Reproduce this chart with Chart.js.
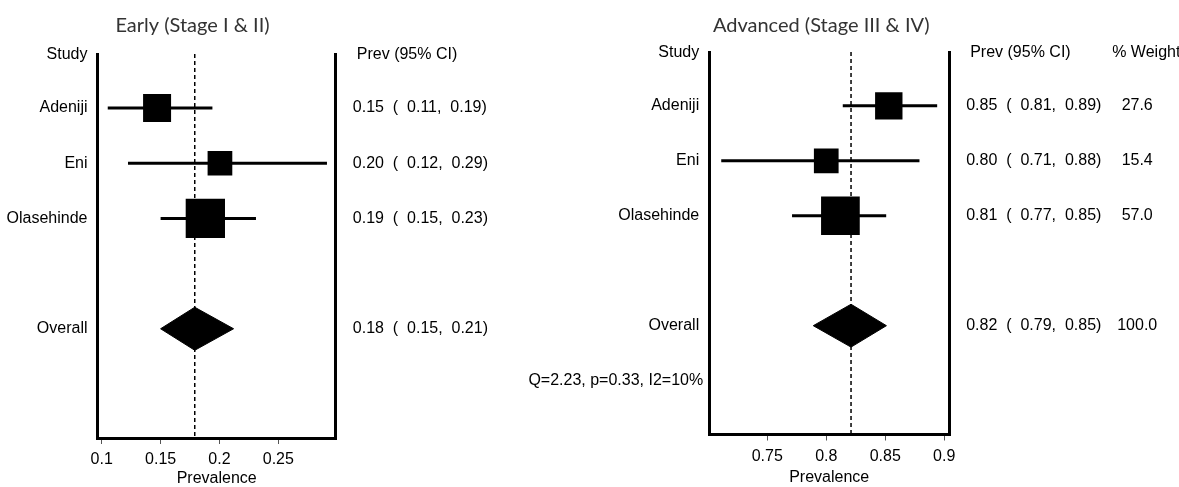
<!DOCTYPE html>
<html>
<head>
<meta charset="utf-8">
<script src="https://cdn.jsdelivr.net/npm/chart.js@4.4.1/dist/chart.umd.min.js"></script>
<style>
  html, body { margin: 0; padding: 0; background: #fff; overflow: hidden; }
  #wrap { position: relative; width: 1179px; height: 487px; overflow: hidden; background: #fff; }
  #wrap canvas { position: absolute; top: 0; }
</style>
</head>
<body>
<div id="wrap">
  <canvas id="early" width="684" height="487" style="left:-150px;width:684px;height:487px"></canvas>
  <canvas id="advanced" width="716" height="487" style="left:463px;width:716px;height:487px"></canvas>
</div>
<script>
// ---- data ----
const studies = ["Adeniji", "Eni", "Olasehinde"];

// Early stage (I & II)
const earlyPrev  = [0.147, 0.2004, 0.188];
const earlyLower = [0.1051, 0.1223, 0.15];
const earlyUpper = [0.194, 0.2913, 0.231];
const earlyPooled = 0.179;
const earlyPooledLower = 0.15;
const earlyPooledUpper = 0.212;
const earlyTicks = [0.1, 0.15, 0.2, 0.25];

// Advanced stage (III & IV)
const advPrev  = [0.853, 0.80, 0.812];
const advLower = [0.814, 0.711, 0.771];
const advUpper = [0.894, 0.879, 0.8508];
const advWeight = [27.6, 15.4, 57.0];
const advPooled = 0.821;
const advPooledLower = 0.789;
const advPooledUpper = 0.851;
const advPooledWeight = 100.0;
const advTicks = [0.75, 0.8, 0.85, 0.9];
const hetQ = 2.23, hetP = 0.33, hetI2 = 10;

// ---- layout / style ----
const BODY_FONT = '"Liberation Sans", Arial, sans-serif';
const TITLE_FONT = 'Lato, "Open Sans", sans-serif';
const Y_MIN = 0.02, Y_MAX = 6.98;      // row space: header row 0, studies 1..3, pooled 5, footnote 6
const DIAMOND_HALF = 0.39;             // diamond half-height in row units

const fmt2 = v => v.toFixed(2);
const ciText = (e, l, h) => `${fmt2(e)}  (  ${fmt2(l)},  ${fmt2(h)})`;

// Table text, headers and panel title around the plot area
const tablePlugin = {
  id: 'forestTable',
  afterDraw(chart, args, o) {
    const { ctx, chartArea: a, scales: { y } } = chart;
    ctx.save();
    ctx.fillStyle = '#333';
    ctx.font = '20px ' + TITLE_FONT;
    ctx.textAlign = 'center';
    ctx.textBaseline = 'alphabetic';
    ctx.fillText(o.title, a.left + o.titleDx, 32);

    ctx.fillStyle = '#000';
    ctx.font = '16px ' + BODY_FONT;
    ctx.textBaseline = 'middle';
    const labX = a.left - 10;
    const headY = a.top + 1;

    ctx.textAlign = 'right';
    ctx.fillText('Study', labX, headY);
    ctx.textAlign = 'left';
    ctx.fillText('Prev (95% CI)', a.right + 21, headY);
    if (o.weights) {
      ctx.fillText('% Weight', a.right + 163, headY);
    }

    o.rows.forEach(r => {
      const py = y.getPixelForValue(r.row);
      ctx.textAlign = 'right';
      ctx.fillText(r.name, labX, py);
      ctx.textAlign = 'left';
      ctx.fillText(r.ci, a.right + 17, py);
      if (r.weight !== undefined) {
        ctx.textAlign = 'center';
        ctx.fillText(r.weight, a.right + 188, py);
      }
    });

    if (o.footnote) {
      ctx.textAlign = 'right';
      ctx.fillText(o.footnote, a.left - 6, y.getPixelForValue(o.footnoteRow));
    }
    ctx.restore();
  }
};

function forestPanel(id, p) {
  const rows = studies.map((_, i) => i + 1);
  const pooledRow = studies.length + 2;
  const datasets = [];

  // study boxes
  datasets.push({
    data: p.prev.map((v, i) => ({ x: v, y: rows[i] })),
    pointStyle: 'rect',
    pointRadius: p.boxSide.map(s => s / Math.SQRT2),
    pointHoverRadius: p.boxSide.map(s => s / Math.SQRT2),
    backgroundColor: '#000', borderColor: '#000', borderWidth: 0,
    order: 0
  });
  // pooled diamond
  datasets.push({
    data: [
      { x: p.pooled[1], y: pooledRow },
      { x: p.pooled[0], y: pooledRow - DIAMOND_HALF },
      { x: p.pooled[2], y: pooledRow },
      { x: p.pooled[0], y: pooledRow + DIAMOND_HALF },
      { x: p.pooled[1], y: pooledRow }
    ],
    showLine: true, fill: 'shape', tension: 0,
    backgroundColor: '#000', borderColor: '#000', borderWidth: 1,
    pointRadius: 0, order: 0
  });
  // confidence intervals
  rows.forEach((r, i) => datasets.push({
    data: [{ x: p.lower[i], y: r }, { x: p.upper[i], y: r }],
    showLine: true, borderColor: '#000', borderWidth: 3, borderCapStyle: 'butt',
    pointRadius: 0, order: 1
  }));
  // pooled estimate reference line
  datasets.push({
    data: [{ x: p.pooled[0], y: Y_MIN }, { x: p.pooled[0], y: Y_MAX }],
    showLine: true, borderColor: '#000', borderWidth: 1.5, borderDash: [4, 3],
    pointRadius: 0, order: 2
  });

  const tableRows = studies.map((s, i) => ({
    name: s, row: rows[i],
    ci: ciText(p.prev[i], p.lower[i], p.upper[i]),
    weight: p.weights ? p.weights[i].toFixed(1) : undefined
  }));
  tableRows.push({
    name: 'Overall', row: pooledRow,
    ci: ciText(p.pooled[0], p.pooled[1], p.pooled[2]),
    weight: p.weights ? p.pooledWeight.toFixed(1) : undefined
  });

  const yAxis = (pos) => ({
    type: 'linear', position: pos, reverse: true, min: Y_MIN, max: Y_MAX,
    ticks: { display: false },
    grid: { display: false, drawTicks: false, lineWidth: 3 },
    border: { display: true, width: 3, color: '#000' },
    afterFit: s => { s.width = 0; }
  });

  return new Chart(document.getElementById(id), {
    type: 'scatter',
    data: { datasets },
    options: {
      responsive: false, animation: false, events: [],
      layout: { padding: p.padding },
      plugins: {
        legend: { display: false }, tooltip: { enabled: false }, title: { display: false },
        forestTable: {
          title: p.title, titleDx: p.titleDx, rows: tableRows, weights: !!p.weights,
          footnote: p.footnote, footnoteRow: pooledRow + 1
        }
      },
      scales: {
        x: {
          type: 'linear', min: p.xMin, max: p.xMax,
          afterBuildTicks: s => { s.ticks = p.ticks.map(v => ({ value: v })); },
          afterFit: s => { s.height = p.axisHeight; },
          border: { display: true, width: 3, color: '#000' },
          grid: { display: true, drawOnChartArea: false, drawTicks: true, tickLength: 6,
                  tickWidth: 1, tickColor: '#555', lineWidth: 3, color: '#000' },
          ticks: { color: '#000', font: { family: BODY_FONT, size: 16 }, padding: 6,
                   autoSkip: false, maxRotation: 0, callback: v => String(v) },
          title: { display: true, text: 'Prevalence', color: '#000',
                   font: { family: BODY_FONT, size: 16 }, padding: { top: 0, bottom: p.titlePad } }
        },
        y: yAxis('left'),
        y2: yAxis('right')
      }
    },
    plugins: [tablePlugin]
  });
}

forestPanel('early', {
  title: 'Early (Stage I & II)', titleDx: 95,
  prev: earlyPrev, lower: earlyLower, upper: earlyUpper,
  pooled: [earlyPooled, earlyPooledLower, earlyPooledUpper],
  ticks: earlyTicks, xMin: 0.0964, xMax: 0.2988,
  boxSide: [28, 24.7, 39.3],
  padding: { left: 247.5, right: 198.2, top: 54, bottom: 0 },
  axisHeight: 49, titlePad: -1
});

forestPanel('advanced', {
  title: 'Advanced (Stage III & IV)', titleDx: 112,
  prev: advPrev, lower: advLower, upper: advUpper,
  weights: advWeight, pooledWeight: advPooledWeight,
  pooled: [advPooled, advPooledLower, advPooledUpper],
  ticks: advTicks, xMin: 0.7008, xMax: 0.9042,
  boxSide: [27.4, 24.7, 38.7],
  padding: { left: 246.2, right: 229.8, top: 52, bottom: 0 },
  axisHeight: 52.5, titlePad: 0,
  footnote: `Q=${hetQ.toFixed(2)}, p=${hetP.toFixed(2)}, I2=${hetI2}%`
});
</script>
</body>
</html>
